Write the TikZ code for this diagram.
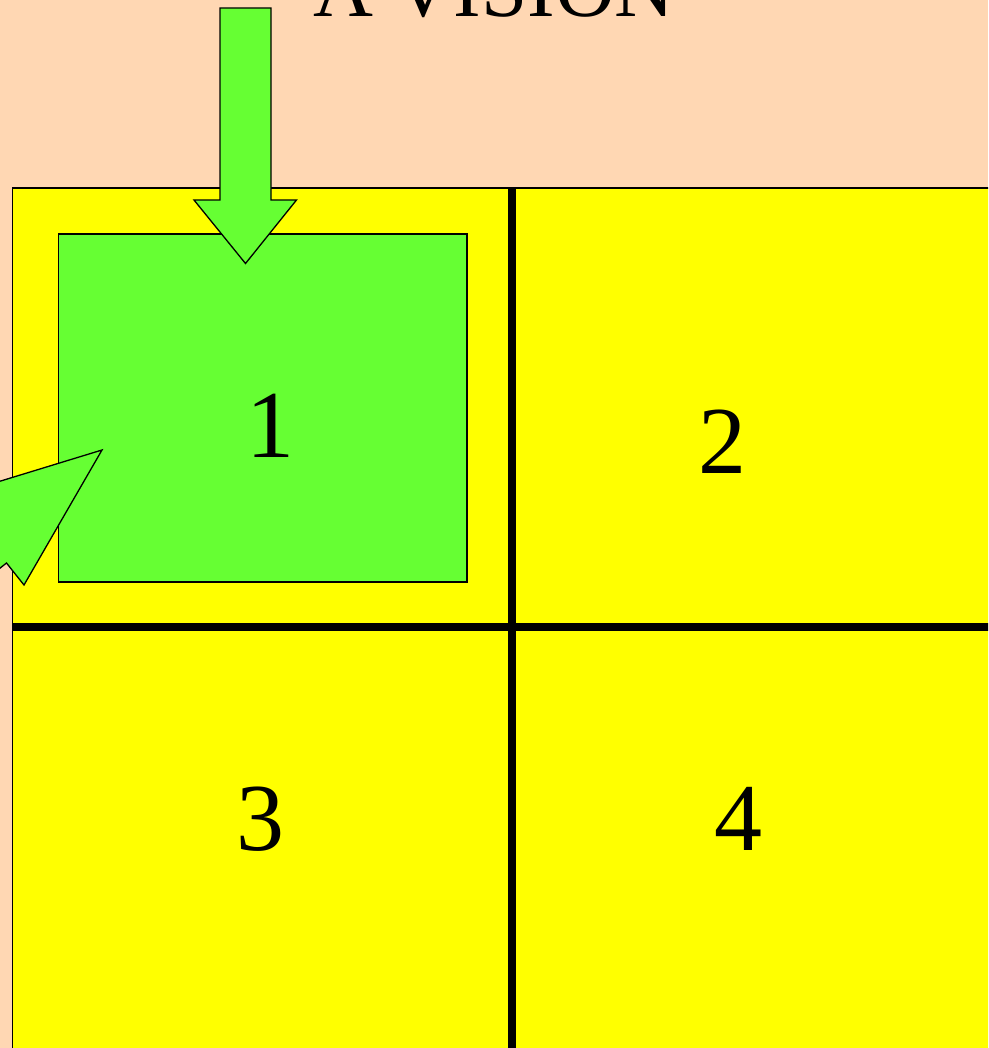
\documentclass[tikz,border=0pt]{standalone}
\usepackage{fontspec}
\setmainfont{Liberation Serif}
\definecolor{peach}{HTML}{FFD7B3}
\definecolor{vgreen}{HTML}{66FF33}
\definecolor{vyellow}{HTML}{FFFF00}
\tikzset{
  thin outline/.style={draw=black,line width=1.3pt,line join=miter},
  divider/.style={draw=black,line width=7.5pt},
  digit/.style={anchor=base,inner sep=0pt,font=\fontsize{96}{96}\selectfont},
  titletext/.style={anchor=base,inner sep=0pt,font=\fontsize{83}{83}\selectfont}
}
\begin{document}
\begin{tikzpicture}[x=1pt,y=-1pt]
\useasboundingbox (0,0) rectangle (988,1048);
\clip (0,0) rectangle (988,1048);
\fill[peach] (0,0) rectangle (988,1048);
% title
\node[titletext] (title) at (494,17) {A VISION};
% yellow grid
\filldraw[fill=vyellow,thin outline] (12.5,188) rectangle (1000,1060);
\draw[divider] (512,188) -- (512,1060);
\draw[divider] (12.5,627) -- (1000,627);
% green square
\filldraw[fill=vgreen,thin outline] (58.5,234) rectangle (467,582);
% down arrow
\filldraw[fill=vgreen,thin outline] (220,8) -- (271,8) -- (271,200) -- (296.5,200) -- (245.5,263.5) -- (194,200) -- (220,200) -- cycle;
% left arrow (pointing up-right, partly out of frame)
\filldraw[fill=vgreen,thin outline] (102,450) -- (24,585) -- (6.5,563) -- (-228.4,749.5) -- (-264.4,704.1) -- (-29.5,517.5) -- (-47,495.6) -- cycle;
% digits
\node[digit] (n1) at (270,457) {1};
\node[digit] (n2) at (722,473) {2};
\node[digit] (n3) at (260.5,850) {3};
\node[digit] (n4) at (738,850) {4};
\end{tikzpicture}
\end{document}
